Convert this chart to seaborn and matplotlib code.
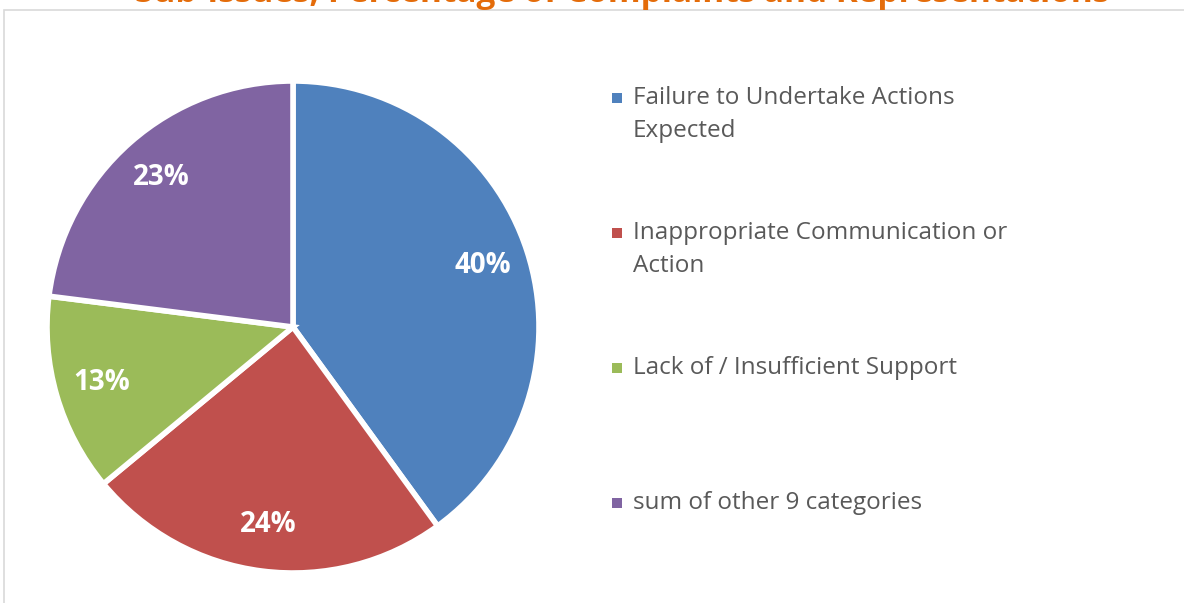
import matplotlib.pyplot as plt
import matplotlib.patches as mpatches
import seaborn as sns

# Data
categories = ['Failure to Undertake Actions\nExpected',
              'Inappropriate Communication or\nAction',
              'Lack of / Insufficient Support',
              'sum of other 9 categories']
shares = [40, 24, 13, 23]
colors = ['#4F81BD', '#C0504D', '#9BBB59', '#8064A2']
title = 'Sub-Issues; Percentage of Complaints and Representations'

sns.set_theme(style='white')
plt.rcParams['font.family'] = ['Open Sans', 'DejaVu Sans']

W, H = 1184, 603
fig = plt.figure(figsize=(W / 100, H / 100), dpi=100)

# light frame of the chart area (top/left visible, rest cropped)
fig.patches.append(mpatches.Rectangle((4 / W, -0.1), 1.2, (H - 10) / H + 0.1,
                                      transform=fig.transFigure, fill=False,
                                      edgecolor='#D9D9D9', linewidth=1.2))

# title, cut off at the top as in the original crop
fig.text(622 / W, (H - 2) / H, title, ha='center', va='baseline',
         color='#E46C0A', fontsize=24, fontweight='bold')

r = 246
ax = fig.add_axes([(293 - r) / W, (H - 327 - r) / H, 2 * r / W, 2 * r / H])
wedges, texts, autotexts = ax.pie(
    shares, colors=colors, startangle=90, counterclock=False,
    autopct='%1.0f%%', pctdistance=0.81,
    wedgeprops=dict(edgecolor='white', linewidth=4),
    textprops=dict(color='white', fontsize=20, fontweight='bold'))
ax.set_xlim(-1.0, 1.0)
ax.set_ylim(-1.0, 1.0)
ax.set_aspect('equal')
ax.axis('off')

# legend, drawn by hand to match the Excel layout
for i, (lab, col) in enumerate(zip(categories, colors)):
    ytop = 98 + i * 135
    fig.patches.append(mpatches.Rectangle((612 / W, (H - ytop - 5) / H), 10 / W, 10 / H,
                                          transform=fig.transFigure,
                                          facecolor=col, edgecolor='none'))
    for j, line in enumerate(lab.split('\n')):
        fig.text(633 / W, (H - ytop - 33 * j) / H, line, ha='left', va='center',
                 color='#595959', fontsize=17.5)

fig.savefig('out.png', dpi=100)
